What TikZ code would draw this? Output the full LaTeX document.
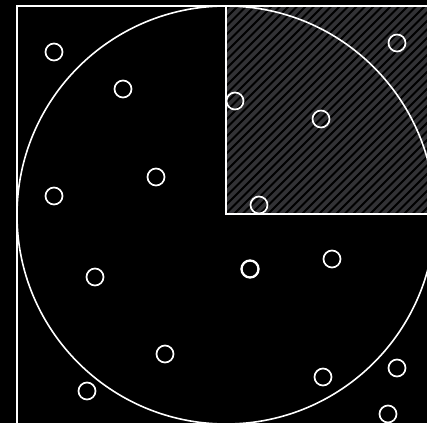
\documentclass[tikz,border=0pt]{standalone}
\begin{document}
\begin{tikzpicture}[x=1pt,y=-1pt,
  dot/.style={circle,draw=white,line width=1.7pt,minimum size=17pt,inner sep=0pt},
  dotb/.style={dot,line width=2.3pt},
  edge/.style={draw=white,line width=1.6pt}]
\useasboundingbox (0,0) rectangle (427,423);
\fill[black] (0,0) rectangle (427,423);
% hatched quadrant
\begin{scope}
  \clip (226,6) rectangle (436,214);
  \fill[fill={rgb,255:red,50;green,50;blue,53}] (226,6) rectangle (436,214);
  \foreach \i in {-230,-221.5,...,230} {
    \draw[black,line width=1.8pt] (226+\i,214) -- ++(240,-240);
  }
\end{scope}
\coordinate (sqA) at (17,6);
\coordinate (sqB) at (435,424);
\coordinate (ctr) at (226,215);
\coordinate (qTop) at (226,6);
\coordinate (qBot) at (226,214);
\coordinate (qRight) at (436,214);
\draw[edge] (sqA) rectangle (sqB);
\draw[edge] (ctr) circle[radius=209];
\draw[edge] (qTop) -- (qBot) -- (qRight);
% points
\node[dot] (p1) at (54,52) {};
\node[dot] (p2) at (123,89) {};
\node[dot] (p3) at (397,43) {};
\node[dot] (p4) at (235,101) {};
\node[dot] (p5) at (321,119) {};
\node[dot] (p6) at (156,177) {};
\node[dot] (p7) at (54,196) {};
\node[dot] (p8) at (259,205) {};
\node[dot] (p9) at (95,277) {};
\node[dotb] (p10) at (250,269) {};
\node[dot] (p11) at (332,259) {};
\node[dot] (p12) at (165,354) {};
\node[dot] (p13) at (87,391) {};
\node[dot] (p14) at (323,377) {};
\node[dot] (p15) at (397,368) {};
\node[dot] (p16) at (388,414) {};
\end{tikzpicture}
\end{document}
